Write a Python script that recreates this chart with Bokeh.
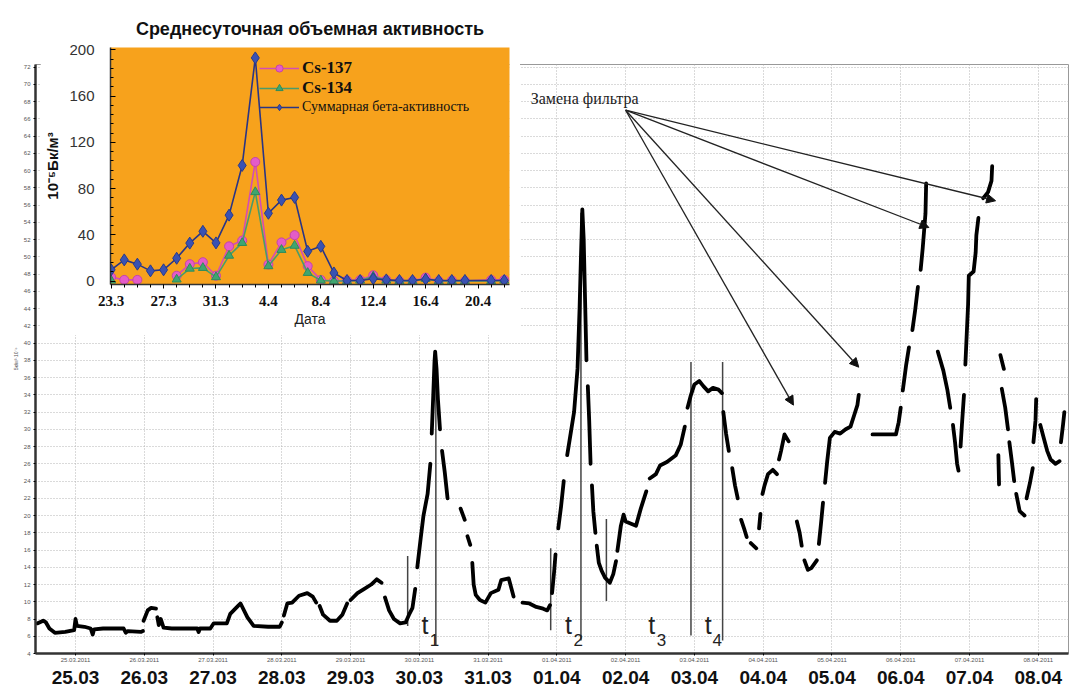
from bokeh.plotting import figure
from bokeh.models import (Range1d, LinearAxis, FixedTicker, ColumnDataSource, Arrow,
                          NormalHead, Legend, LegendItem)
from bokeh.layouts import column
from bokeh.embed import file_html
from bokeh.resources import INLINE
from bokeh.core.properties import value

nan = float("nan")

# ---------------- main chart data (days since 25.03.2011 00:00) ----------------
main_days = [
    -0.55, -0.47, -0.43, -0.38, -0.3, -0.15, -0.02, 0.0, 0.02, 0.13, 0.22, 0.25, 0.27, 0.4, 0.7, 0.73, 0.76, 0.95, 0.98, nan,
    0.99, 1.05, 1.1, 1.17, nan,
    1.19, 1.21, 1.24, 1.28, 1.4, 1.77, 1.79, 1.81, 1.96, 2.01, 2.2, 2.25, 2.36, 2.4, 2.5, 2.59, 2.8, 2.97, 3.0, nan,
    3.03, 3.08, 3.15, 3.25, 3.37, 3.45, 3.5, nan,
    3.55, 3.6, 3.7, 3.8, 3.88, 3.95, nan,
    4.0, 4.1, 4.2, 4.3, 4.38, 4.45, nan,
    4.5, 4.56, 4.63, 4.72, 4.8, 4.85, 4.9, 4.94, nan,
    4.97, 5.02, 5.06, 5.12, 5.16, nan,
    5.18, 5.2, 5.22, 5.23, 5.25, 5.27, 5.3, nan,
    5.33, 5.37, 5.41, nan,
    5.6, 5.66, nan,
    5.7, 5.74, nan,
    5.77, 5.79, 5.82, 5.88, 5.96, 6.04, 6.15, 6.19, 6.3, 6.34, 6.37, nan,
    6.5, 6.6, 6.7, 6.8, 6.86, 6.9, nan,
    6.93, 6.96, 6.98, nan,
    7.02, 7.06, 7.1, nan,
    7.15, 7.2, 7.25, 7.3, 7.33, 7.35, 7.37, 7.39, 7.41, 7.43, nan,
    7.45, 7.47, 7.49, nan,
    7.51, 7.53, 7.56, nan,
    7.58, 7.61, 7.65, 7.7, 7.77, 7.82, 7.86, nan,
    7.88, 7.93, 7.97, 8.0, 8.15, 8.22, 8.3, nan,
    8.35, 8.44, 8.5, 8.6, 8.73, 8.8, 8.86, nan,
    8.9, 8.95, 9.0, 9.07, 9.13, 9.2, 9.27, 9.35, 9.4, nan,
    9.42, 9.46, 9.5, nan,
    9.55, 9.59, 9.63, nan,
    9.68, 9.73, 9.76, nan,
    9.82, 9.9, nan,
    9.94, 9.96, nan,
    9.99, 10.02, 10.07, 10.14, 10.2, nan,
    10.23, 10.26, 10.31, 10.37, nan,
    10.49, 10.53, 10.56, nan,
    10.6, 10.65, 10.7, 10.78, nan,
    10.81, 10.84, 10.87, nan,
    10.9, 10.93, 10.97, 11.04, 11.12, 11.2, 11.27, 11.33, 11.37, 11.39, nan,
    11.59, 11.93, 11.97, 12.0, nan,
    12.03, 12.08, 12.12, nan,
    12.17, 12.21, 12.25, nan,
    12.29, 12.32, 12.34, 12.36, 12.37, nan,
    12.54, 12.62, 12.68, 12.72, nan,
    12.76, 12.79, 12.82, 12.84, nan,
    12.87, 12.89, 12.92, nan,
    12.94, 12.96, 12.98, 12.99, 13.06, 13.09, 13.1, 13.13, nan,
    13.2, 13.27, 13.32, 13.33, nan,
    13.42, 13.43, nan,
    13.45, 13.5, nan,
    13.47, 13.52, 13.56, nan,
    13.58, 13.62, 13.65, nan,
    13.68, 13.73, 13.8, nan,
    13.83, 13.88, 13.92, nan,
    13.93, 13.96, 13.97, nan,
    14.03, 14.08, 14.13, 14.18, 14.25, 14.31, nan,
    14.33, 14.36, 14.38,
]
main_vals = [
    7.5, 7.8, 7.6, 6.9, 6.4, 6.5, 6.7, 8.0, 7.2, 7.1, 6.9, 6.2, 6.8, 6.9, 6.9, 6.4, 6.6, 6.5, 6.6, nan,
    7.8, 9.0, 9.3, 9.2, nan,
    8.2, 7.3, 8.0, 7.0, 6.9, 6.9, 6.5, 6.9, 6.9, 7.5, 7.5, 8.6, 9.5, 9.8, 8.2, 7.2, 7.1, 7.1, 7.6, nan,
    8.4, 9.8, 9.9, 10.7, 11.0, 10.6, 9.9, nan,
    9.5, 8.5, 7.8, 7.8, 8.5, 9.8, nan,
    10.2, 11.0, 11.5, 12.0, 12.6, 12.2, nan,
    10.5, 9.0, 8.0, 7.5, 7.6, 8.5, 9.3, 11.5, nan,
    14.0, 17.4, 20.0, 22.5, 26.0, nan,
    29.5, 33.5, 37.8, 39.0, 37.0, 33.5, 30.0, nan,
    27.5, 25.0, 22.0, nan,
    20.8, 19.5, nan,
    17.6, 16.6, nan,
    14.5, 12.0, 10.8, 10.2, 9.9, 11.0, 11.4, 12.5, 12.7, 11.5, 10.6, nan,
    9.9, 9.8, 9.4, 9.2, 9.0, 9.6, nan,
    11.0, 13.5, 15.5, nan,
    18.5, 21.0, 24.0, nan,
    27.0, 29.5, 32.0, 37.0, 44.0, 50.0, 55.5, 52.0, 45.0, 38.0, nan,
    35.0, 31.0, 26.0, nan,
    23.5, 20.5, 18.0, nan,
    16.5, 14.5, 13.6, 12.8, 12.2, 13.2, 14.7, nan,
    15.9, 18.8, 20.1, 19.3, 18.8, 20.8, 22.8, nan,
    24.3, 24.8, 25.8, 26.2, 27.0, 28.2, 30.3, nan,
    32.5, 34.0, 35.2, 35.6, 35.0, 34.4, 34.8, 34.6, 34.2, nan,
    32.0, 29.5, 27.5, nan,
    25.5, 23.5, 22.0, nan,
    19.5, 18.3, 17.5, nan,
    16.8, 16.2, nan,
    18.5, 20.2, nan,
    22.5, 23.5, 24.8, 25.3, 24.8, nan,
    26.5, 27.5, 29.4, 28.6, nan,
    19.3, 18.0, 16.5, nan,
    14.8, 13.7, 13.9, 14.8, nan,
    16.7, 19.0, 21.5, nan,
    23.8, 26.2, 29.0, 29.7, 29.5, 30.0, 30.3, 31.8, 32.8, 34.0, nan,
    29.4, 29.4, 30.8, 32.5, nan,
    34.5, 37.5, 39.5, nan,
    41.5, 43.8, 46.5, nan,
    48.5, 51.0, 53.0, 55.0, 58.5, nan,
    39.0, 36.8, 34.5, 32.5, nan,
    30.5, 28.5, 26.0, 25.2, nan,
    28.0, 30.5, 34.0, nan,
    37.5, 41.0, 44.5, 47.8, 48.3, 50.5, 52.5, 54.5, nan,
    56.8, 57.5, 58.8, 60.5, nan,
    27.0, 23.6, nan,
    38.6, 37.0, nan,
    34.7, 32.5, 30.0, nan,
    28.5, 26.0, 24.0, nan,
    22.5, 20.5, 20.0, nan,
    22.0, 23.8, 25.5, nan,
    28.5, 31.0, 33.5, nan,
    30.5, 29.0, 27.5, 26.5, 26.0, 26.3, nan,
    28.5, 30.5, 32.0,
]

day_ticks = list(range(15))
date_small = ["25.03.2011", "26.03.2011", "27.03.2011", "28.03.2011", "29.03.2011",
              "30.03.2011", "31.03.2011", "01.04.2011", "02.04.2011", "03.04.2011",
              "04.04.2011", "05.04.2011", "06.04.2011", "07.04.2011", "08.04.2011"]
date_big = ["25.03", "26.03", "27.03", "28.03", "29.03", "30.03", "31.03", "01.04",
            "02.04", "03.04", "04.04", "05.04", "06.04", "07.04", "08.04"]
y_ticks = list(range(4, 73, 2))

# vertical marker lines
marker_day = [4.83, 5.24, 6.91, 7.35, 7.72, 8.95, 9.41]
marker_top = [15.3, 38.9, 16.2, 55.1, 19.6, 37.8, 37.8]
marker_bottom = [7.2, 4.9, 6.7, 5.5, 10.1, 6.1, 5.5]

# t-labels
t_text = ["t", "t", "t", "t"]
t_sub = ["1", "2", "3", "4"]
t_day = [5.08, 7.17, 8.38, 9.2]
t_sub_day = [5.22, 7.31, 8.52, 9.33]
t_val = [7.3, 7.3, 7.3, 7.3]
t_sub_val = [5.6, 5.6, 5.6, 5.6]

# filter-change note and arrows
note_text = ["Замена фильтра"]
note_day = [6.62]
note_val = [68.4]
arrow_start_day = [8.0, 8.0, 8.0, 8.0]
arrow_start_val = [67.0, 67.0, 67.0, 67.0]
arrow_end_day = [10.44, 11.39, 12.41, 13.38]
arrow_end_val = [32.8, 37.2, 53.4, 56.5]

# ---------------- inset data (days since 23.03) ----------------
inset_days = list(range(28)) + [29, 30]
beta = [9.7, 18.3, 14.6, 8.8, 9.7, 19.7, 32.8, 43.0, 33.0, 57.0, 100.0, 193.0, 58.6, 70.0,
        72.3, 25.7, 30.0, 7.0, 0.5, 0.5, 2.0, 1.0, 0.5, 0.5, 1.5, 0.5, 0.5, 0.5, 0.5, 0.5]
cs137 = [3.4, 1.0, 1.0, nan, nan, 4.6, 14.6, 16.3, 4.6, 30.0, 35.0, 103.0, 14.3, 33.4,
         39.7, 12.9, 1.0, 0.0, 0.5, 1.0, 5.0, 1.0, 0.0, 0.0, 3.0, 0.0, 0.5, 0.0, 1.0, 1.0]
cs134 = [0.5, nan, nan, nan, nan, 1.4, 10.8, 11.4, 3.4, 22.0, 33.0, 77.0, 12.9, 27.0,
         30.6, 7.1, 0.5, 0.0, 0.0, 0.5, 4.0, 0.5, 0.0, 0.0, 2.0, 0.0, 0.0, 0.0, 0.0, 0.5]
inset_x_ticks = [0, 4, 8, 12, 16, 20, 24, 28]
inset_x_labels = ["23.3", "27.3", "31.3", "4.4", "8.4", "12.4", "16.4", "20.4"]
inset_y_ticks = [0, 40, 80, 120, 160, 200]

SANS = "Liberation Sans"
SERIF = "Liberation Serif"

# ---------------- main figure ----------------
main = figure(width=1072, height=688, x_range=Range1d(-0.582, 14.44), y_range=Range1d(4, 72.3),
              output_backend="svg", toolbar_location=None, frame_align=False,
              min_border_left=35, min_border_right=4, min_border_top=64, min_border_bottom=35,
              background_fill_color="white", border_fill_color="white")
main.outline_line_color = "#999999"
main.outline_line_width = 1

main.xaxis.ticker = FixedTicker(ticks=day_ticks)
main.xaxis.major_label_overrides = {i: s for i, s in zip(day_ticks, date_small)}
main.xaxis.major_label_text_font_size = "6px"
main.xaxis.major_label_text_color = "#555555"
main.xaxis.major_label_text_font = SANS
main.xaxis.major_label_standoff = 2
main.xaxis.major_tick_out = 2
main.xaxis.major_tick_in = 0
main.xaxis.minor_tick_line_color = None
main.xaxis.axis_line_width = 2.5
main.xaxis.axis_line_color = "#333333"

big = LinearAxis(ticker=FixedTicker(ticks=day_ticks),
                 major_label_overrides={i: s for i, s in zip(day_ticks, date_big)},
                 axis_line_color=None, major_tick_line_color=None, minor_tick_line_color=None,
                 major_label_text_font_size="19px", major_label_text_font_style="bold",
                 major_label_text_font=SANS, major_label_text_color="#111111",
                 major_label_standoff=0)
main.add_layout(big, "below")

main.yaxis.ticker = FixedTicker(ticks=y_ticks)
main.yaxis.major_label_text_font_size = "6px"
main.yaxis.major_label_text_color = "#555555"
main.yaxis.major_label_text_font = SANS
main.yaxis.major_label_standoff = 3
main.yaxis.major_tick_out = 2
main.yaxis.major_tick_in = 0
main.yaxis.minor_tick_line_color = None
main.yaxis.axis_line_width = 2.5
main.yaxis.axis_line_color = "#333333"
main.yaxis.axis_label = "Бк/м³·10⁻⁶"
main.yaxis.axis_label_text_font_size = "5px"
main.yaxis.axis_label_text_font_style = "normal"
main.yaxis.axis_label_text_color = "#555555"
main.yaxis.axis_label_standoff = 2

main.xgrid.ticker = FixedTicker(ticks=day_ticks)
main.ygrid.ticker = FixedTicker(ticks=y_ticks)
for g in (main.xgrid, main.ygrid):
    g.grid_line_color = "#b5b5b5"
    g.grid_line_dash = "1 2"
    g.grid_line_width = 1

main.segment(x0=marker_day, y0=marker_bottom, x1=marker_day, y1=marker_top,
             line_color="#444444", line_width=1.5)

main.line(main_days, main_vals, line_color="black", line_width=3.8,
          line_cap="round", line_join="round")

main.text(x=t_day, y=t_val, text=t_text, text_font=value(SANS), text_font_size="25px",
          text_align="center", text_baseline="middle", text_color="#222222")
main.text(x=t_sub_day, y=t_sub_val, text=t_sub, text_font=value(SANS), text_font_size="17px",
          text_align="center", text_baseline="middle", text_color="#222222")

main.text(x=note_day, y=note_val, text=note_text, text_font=value(SERIF), text_font_size="16px",
          text_align="left", text_baseline="middle", text_color="#222222")

arrow_src = ColumnDataSource(dict(x0=arrow_start_day, y0=arrow_start_val,
                                  x1=arrow_end_day, y1=arrow_end_val))
main.add_layout(Arrow(end=NormalHead(size=9, fill_color="#111111", line_color="#111111"),
                      x_start="x0", y_start="y0", x_end="x1", y_end="y1",
                      source=arrow_src, line_color="#222222", line_width=1.3))

# ---------------- inset figure ----------------
inset = figure(width=480, height=327, x_range=Range1d(-0.05, 30.4), y_range=Range1d(-3, 202),
               output_backend="svg", toolbar_location=None, frame_align=False,
               min_border_left=70, min_border_right=11, min_border_top=39, min_border_bottom=51,
               background_fill_color="#F7A21C", border_fill_color="white",
               title="Среднесуточная объемная активность",
               styles={"position": "absolute", "left": "40px", "top": "8px", "z-index": "5"})
inset.outline_line_color = None
inset.title.align = "center"
inset.title.text_font = SANS
inset.title.text_font_size = "18px"
inset.title.text_font_style = "bold"
inset.title.text_color = "#111111"
inset.title.standoff = 17
inset.grid.visible = False

inset.xaxis.ticker = FixedTicker(ticks=inset_x_ticks, minor_ticks=list(range(31)))
inset.xaxis.major_label_overrides = {t: s for t, s in zip(inset_x_ticks, inset_x_labels)}
inset.xaxis.major_label_text_font = SERIF
inset.xaxis.major_label_text_font_size = "15px"
inset.xaxis.major_label_text_font_style = "bold"
inset.xaxis.major_label_text_color = "#111111"
inset.xaxis.major_label_standoff = 7
inset.xaxis.major_tick_out = 4
inset.xaxis.major_tick_in = 0
inset.xaxis.minor_tick_out = 3
inset.xaxis.minor_tick_in = 0
inset.xaxis.axis_line_color = "#333333"
inset.xaxis.axis_line_width = 1.5
inset.xaxis.axis_label = "Дата"
inset.xaxis.axis_label_text_font = SANS
inset.xaxis.axis_label_text_font_size = "14px"
inset.xaxis.axis_label_text_font_style = "normal"
inset.xaxis.axis_label_text_color = "#222222"
inset.xaxis.axis_label_standoff = 2

inset.yaxis.ticker = FixedTicker(ticks=inset_y_ticks, minor_ticks=list(range(0, 201, 8)))
inset.yaxis.major_label_text_font = SANS
inset.yaxis.major_label_text_font_size = "15px"
inset.yaxis.major_label_text_color = "#333333"
inset.yaxis.major_label_standoff = 16
inset.yaxis.major_tick_in = 5
inset.yaxis.major_tick_out = 0
inset.yaxis.minor_tick_in = 3
inset.yaxis.minor_tick_out = 0
inset.yaxis.axis_line_color = "#333333"
inset.yaxis.axis_line_width = 1.5
inset.yaxis.axis_label = "10⁻⁵Бк/м³"
inset.yaxis.axis_label_text_font = SANS
inset.yaxis.axis_label_text_font_size = "15px"
inset.yaxis.axis_label_text_font_style = "bold"
inset.yaxis.axis_label_text_color = "#111111"
inset.yaxis.axis_label_standoff = 5

pink_line = inset.line(inset_days, cs137, line_color="#D44DB4", line_width=1.6)
pink_pts = inset.scatter(inset_days, cs137, marker="circle", size=9,
                         fill_color="#E45CC8", line_color="#C445A8")
green_line = inset.line(inset_days, cs134, line_color="#4A9C6A", line_width=1.6)
green_pts = inset.scatter(inset_days, cs134, marker="triangle", size=9,
                          fill_color="#3FA570", line_color="#2F8C5A")
blue_line = inset.line(inset_days, beta, line_color="#2A3585", line_width=1.6)
blue_pts = inset.scatter(inset_days, beta, marker="diamond", size=12,
                         fill_color="#3A52B2", line_color="#283A8C")

leg1 = Legend(items=[LegendItem(label="Cs-137", renderers=[pink_line, pink_pts]),
                     LegendItem(label="Cs-134", renderers=[green_line, green_pts])],
              location=(149, 186), label_text_font=SERIF, label_text_font_size="17px",
              label_text_font_style="bold", label_text_color="#111111",
              glyph_width=40, glyph_height=18, label_height=18, spacing=0, padding=0,
              margin=0, label_standoff=3, border_line_color=None, background_fill_alpha=0)
leg2 = Legend(items=[LegendItem(label="Суммарная бета-активность", renderers=[blue_line, blue_pts])],
              location=(149, 169), label_text_font=SERIF, label_text_font_size="14px",
              label_text_color="#111111",
              glyph_width=40, glyph_height=16, label_height=16, spacing=0, padding=0,
              margin=0, label_standoff=3, border_line_color=None, background_fill_alpha=0)
inset.add_layout(leg1)
inset.add_layout(leg2)

layout = column(main, inset)
open("out.html", "w").write(file_html(layout, INLINE))
